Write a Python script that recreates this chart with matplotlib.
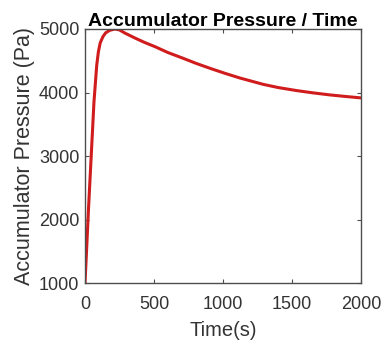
import numpy as np
import matplotlib.pyplot as plt

plt.rcParams['font.family'] = ['Liberation Sans', 'DejaVu Sans']

# accumulator pressure vs. time
t = [0, 10, 25, 45, 65, 85, 97, 110, 130, 150, 180, 217, 250, 290, 360,
     430, 507, 600, 712, 806, 906, 1010, 1123, 1292, 1400, 1534, 1650, 1775,
     1900, 2000]
p = [1000, 1450, 2150, 3000, 3850, 4430, 4640, 4780, 4880, 4940, 4980, 5000,
     4985, 4935, 4860, 4790, 4722, 4630, 4538, 4458, 4381, 4305, 4228, 4128,
     4078, 4030, 3995, 3962, 3935, 3915]

fig = plt.figure(figsize=(3.82, 3.44), dpi=100)
ax = fig.add_axes([0.2225, 0.1773, 0.7225, 0.7384])

ax.plot(t, p, color='#d01c1c', lw=2.2)

ax.set_xlim(0, 2000)
ax.set_ylim(1000, 5000)
ax.set_xticks([0, 500, 1000, 1500, 2000])
ax.set_yticks([1000, 2000, 3000, 4000, 5000])

for s in ax.spines.values():
    s.set_color('#4d4d4d')
    s.set_linewidth(1.0)
ax.tick_params(direction='in', top=True, right=True, length=3,
               colors='#4d4d4d', labelsize=13, labelcolor='#333333', pad=4)
ax.tick_params(axis='x', pad=9)

ax.set_xlabel('Time(s)', fontsize=14.5, color='#333333', labelpad=6)
ax.set_ylabel('Accumulator Pressure (Pa)', fontsize=15.5, color='#333333', labelpad=3)
ax.set_title('Accumulator Pressure / Time', fontsize=14, fontweight='bold', pad=2)

fig.savefig('out.png', dpi=100)
